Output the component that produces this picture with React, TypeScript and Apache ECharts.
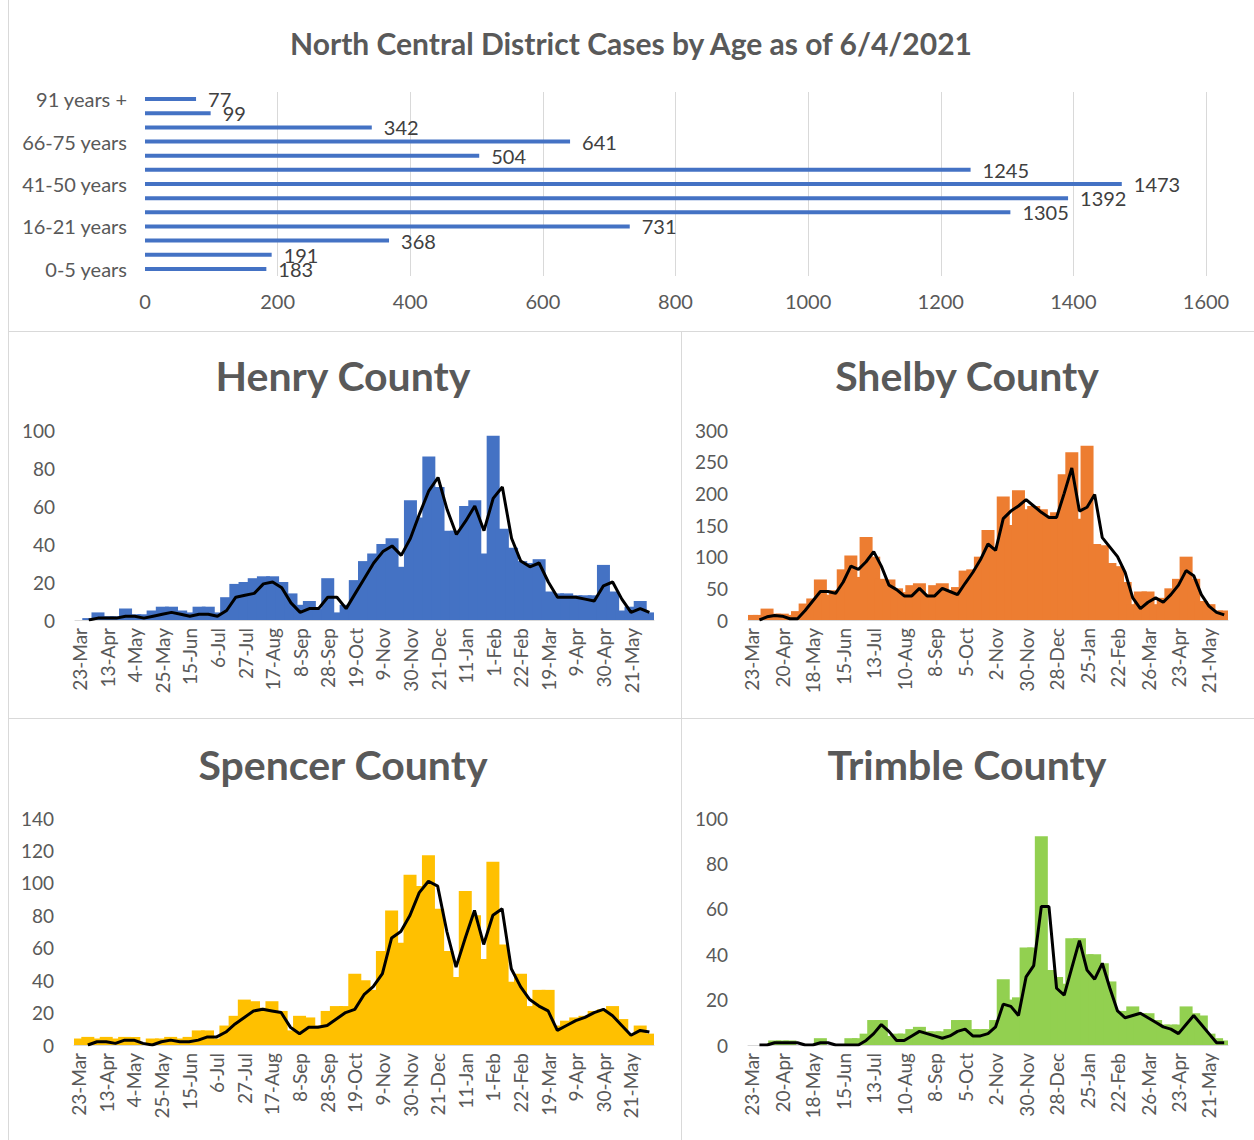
import React, { useEffect, useRef } from "react";
import * as echarts from "echarts";

const FONT = 'Lato, "Open Sans", sans-serif';

// Top chart
const ageGroups = [
  "0-5 years", "6-10 years", "11-15 years", "16-21 years", "22-30 years", "31-40 years",
  "41-50 years", "51-60 years", "61-65 years", "66-75 years", "76-85 years", "86-90 years", "91 years +",
];
const ageCases = [183, 191, 368, 731, 1305, 1392, 1473, 1245, 504, 641, 342, 99, 77];

// Weekly categories
const weekDates = [
  "23-Mar", "30-Mar", "6-Apr", "13-Apr", "20-Apr", "27-Apr", "4-May", "11-May", "18-May", "25-May",
  "1-Jun", "8-Jun", "15-Jun", "22-Jun", "29-Jun", "6-Jul", "13-Jul", "20-Jul", "27-Jul", "3-Aug",
  "10-Aug", "17-Aug", "24-Aug", "31-Aug", "8-Sep", "14-Sep", "21-Sep", "28-Sep", "5-Oct", "12-Oct",
  "19-Oct", "26-Oct", "2-Nov", "9-Nov", "16-Nov", "23-Nov", "30-Nov", "7-Dec", "14-Dec", "21-Dec",
  "28-Dec", "4-Jan", "11-Jan", "18-Jan", "25-Jan", "1-Feb", "8-Feb", "15-Feb", "22-Feb", "1-Mar",
  "12-Mar", "19-Mar", "26-Mar", "2-Apr", "9-Apr", "16-Apr", "23-Apr", "30-Apr", "7-May", "14-May",
  "21-May", "28-May", "4-Jun",
];

const henryCases = [
  0, 1, 4, 2, 2, 6, 3, 3, 5, 7, 7, 5, 4, 7, 7, 4, 12, 19, 20, 22,
  23, 23, 20, 14, 8, 10, 6, 22, 4, 8, 21, 31, 35, 40, 43, 28, 63, 54, 86, 70,
  47, 47, 60, 63, 35, 97, 48, 38, 31, 30, 32, 15, 14, 14, 13, 13, 13, 29, 15, 5,
  7, 10, 4,
];
const henryTrend = [
  null, 0, 1, 1, 1, 2, 2, 1, 2, 3, 4, 3, 2, 3, 3, 2, 5, 12, 13, 14,
  19, 20, 17, 9, 4, 6, 6, 12, 12, 6, 14, 22, 30, 36, 39, 34, 43, 56, 68, 75,
  58, 45, 52, 60, 47, 64, 70, 43, 31, 28, 30, 20, 12, 12, 12, 11, 10, 18, 20, 11,
  4, 6, 4,
];

const shelbyCases = [
  8, 8, 18, 10, 10, 8, 14, 26, 34, 64, 40, 47, 80, 102, 68, 131, 100, 65, 64, 50,
  44, 55, 58, 40, 55, 58, 45, 52, 78, 80, 100, 142, 115, 195, 150, 205, 175, 180, 175, 165,
  170, 230, 265, 160, 275, 120, 118, 90, 85, 60, 25, 45, 45, 25, 35, 50, 65, 100, 65, 30,
  25, 15, 15,
];
const shelbyTrend = [
  null, 0, 5, 7, 6, 2, 2, 15, 30, 45, 45, 42, 60, 85, 80, 92, 108, 85, 55, 48,
  38, 38, 50, 38, 38, 50, 45, 40, 58, 75, 95, 120, 110, 160, 172, 180, 190, 180, 170, 162,
  162, 200, 240, 172, 178, 198, 130, 115, 100, 75, 35, 18, 28, 35, 28, 40, 55, 78, 70, 40,
  22, 12, 8,
];

const spencerCases = [
  4, 5, 4, 5, 4, 5, 5, 1, 4, 4, 5, 4, 5, 9, 9, 4, 12, 18, 28, 27,
  23, 27, 21, 9, 18, 17, 12, 21, 24, 24, 44, 40, 34, 58, 83, 63, 105, 98, 117, 84,
  58, 42, 95, 80, 53, 113, 62, 39, 44, 24, 34, 34, 12, 15, 17, 18, 21, 22, 24, 16,
  7, 12, 7,
];
const spencerTrend = [
  null, 0, 2, 2, 1, 3, 3, 1, 0, 2, 3, 2, 2, 3, 5, 5, 8, 13, 17, 21,
  22, 21, 20, 11, 7, 11, 11, 12, 16, 20, 22, 31, 36, 44, 66, 70, 80, 94, 101, 98,
  70, 48, 66, 83, 62, 80, 84, 47, 36, 28, 24, 21, 9, 12, 15, 17, 20, 22, 18, 12,
  6, 9, 8,
];

const trimbleCases = [
  0, 0, 0, 2, 2, 2, 0, 0, 0, 3, 0, 0, 0, 3, 3, 5, 11, 11, 4, 5,
  5, 7, 8, 6, 6, 6, 7, 11, 11, 7, 7, 7, 11, 29, 20, 21, 43, 43, 92, 33,
  30, 27, 47, 47, 40, 40, 36, 28, 15, 15, 17, 14, 14, 11, 9, 9, 9, 17, 14, 13,
  5, 3, 2,
];
const trimbleTrend = [
  null, 0, 0, 1, 1, 1, 1, 0, 0, 1, 1, 0, 0, 0, 0, 2, 5, 9, 6, 2,
  2, 4, 6, 5, 4, 3, 4, 6, 7, 4, 4, 5, 8, 18, 17, 13, 30, 35, 61, 61,
  25, 22, 34, 46, 33, 29, 36, 25, 15, 12, 13, 14, 12, 10, 8, 7, 5, 9, 13, 9,
  5, 1, 1,
];

const counties = [
  { name: "Henry County", cases: henryCases, trend: henryTrend, color: "#4472C4", max: 100, interval: 20, labelEvery: 2,
    left: 75, top: 430, width: 579, height: 190, titleX: 343, titleY: 375 },
  { name: "Shelby County", cases: shelbyCases, trend: shelbyTrend, color: "#ED7D31", max: 300, interval: 50, labelEvery: 3,
    left: 748, top: 430, width: 480, height: 190, titleX: 967, titleY: 375 },
  { name: "Spencer County", cases: spencerCases, trend: spencerTrend, color: "#FFC000", max: 140, interval: 20, labelEvery: 2,
    left: 74, top: 818, width: 580, height: 227, titleX: 343, titleY: 764 },
  { name: "Trimble County", cases: trimbleCases, trend: trimbleTrend, color: "#92D050", max: 100, interval: 20, labelEvery: 3,
    left: 748, top: 818, width: 480, height: 227, titleX: 967, titleY: 764 },
];

const GRAY = "#595959";
const BORDER = "#d9d9d9";
const BAR_PX = 13;

export default function App() {
  const ref = useRef<HTMLDivElement>(null);
  useEffect(() => {
    if (!ref.current) return;
    const chart = echarts.init(ref.current, undefined, { renderer: "svg" });

    const grids: any[] = [{ left: 145, top: 92, width: 1061, height: 184 }];
    const xAxes: any[] = [
      {
        type: "value", gridIndex: 0, min: 0, max: 1600, interval: 200,
        axisLine: { show: false }, axisTick: { show: false },
        axisLabel: { fontFamily: FONT, fontSize: 20, color: GRAY, margin: 15, formatter: (v: number) => String(v) },
        splitLine: { show: true, showMinLine: false, lineStyle: { color: BORDER, width: 1 } },
      },
    ];
    const yAxes: any[] = [
      {
        type: "category", gridIndex: 0, data: ageGroups,
        axisLine: { show: false }, axisTick: { show: false },
        axisLabel: { interval: 2, fontFamily: FONT, fontSize: 20, color: GRAY, margin: 18 },
      },
    ];
    const series: any[] = [
      {
        type: "bar", xAxisIndex: 0, yAxisIndex: 0, data: ageCases, barWidth: 4,
        itemStyle: { color: "#4472C4" },
        label: { show: true, position: "right", distance: 12, fontFamily: FONT, fontSize: 20, color: "#404040" },
      },
    ];
    const graphics: any[] = [
      { type: "text", x: 631, y: 43, style: { text: "North Central District Cases by Age as of 6/4/2021", fill: GRAY, font: `bold 30px ${FONT}`, textAlign: "center", textVerticalAlign: "middle" } },
      { type: "line", shape: { x1: 8.5, y1: 0, x2: 8.5, y2: 1140 }, style: { stroke: BORDER, lineWidth: 1 } },
      { type: "line", shape: { x1: 8, y1: 331.5, x2: 1254, y2: 331.5 }, style: { stroke: BORDER, lineWidth: 1 } },
      { type: "line", shape: { x1: 681.5, y1: 331, x2: 681.5, y2: 1140 }, style: { stroke: BORDER, lineWidth: 1 } },
      { type: "line", shape: { x1: 8, y1: 718.5, x2: 1254, y2: 718.5 }, style: { stroke: BORDER, lineWidth: 1 } },
    ];

    counties.forEach((c, i) => {
      const gi = i + 1;
      grids.push({ left: c.left, top: c.top, width: c.width, height: c.height });
      xAxes.push({
        type: "category", gridIndex: gi, data: weekDates, boundaryGap: true,
        axisLine: { show: true, lineStyle: { color: BORDER, width: 1 } },
        axisTick: { show: false },
        axisLabel: { interval: c.labelEvery, rotate: 90, fontFamily: FONT, fontSize: 19, color: GRAY, margin: 8 },
      });
      yAxes.push({
        type: "value", gridIndex: gi, min: 0, max: c.max, interval: c.interval,
        axisLine: { show: false }, axisTick: { show: false }, splitLine: { show: false },
        axisLabel: { fontFamily: FONT, fontSize: 19, color: GRAY, margin: 20 },
      });
      const fill = c.color;
      series.push({
        type: "custom", xAxisIndex: gi, yAxisIndex: gi, clip: true,
        data: c.cases.map((v, k) => [k, v]),
        encode: { x: 0, y: 1 },
        renderItem: (params: any, api: any) => {
          const top = api.coord([api.value(0), api.value(1)]);
          const base = api.coord([api.value(0), 0]);
          const w = BAR_PX;
          return {
            type: "rect",
            shape: { x: top[0] - w / 2, y: top[1], width: w, height: base[1] - top[1] },
            style: { fill },
          };
        },
      });
      series.push({
        type: "line", xAxisIndex: gi, yAxisIndex: gi, data: c.trend,
        symbol: "none", z: 5,
        lineStyle: { color: "#000000", width: 3 },
      });
      graphics.push({
        type: "text", x: c.titleX, y: c.titleY,
        style: { text: c.name, fill: GRAY, font: `bold 41px ${FONT}`, textAlign: "center", textVerticalAlign: "middle" },
      });
    });

    chart.setOption({
      animation: false,
      backgroundColor: "#ffffff",
      grid: grids,
      xAxis: xAxes,
      yAxis: yAxes,
      series,
      graphic: graphics,
    });
    return () => chart.dispose();
  }, []);

  return (
    <div
      ref={ref}
      style={{ position: "fixed", left: 0, top: 0, width: 1254, height: 1140, background: "#fff" }}
    />
  );
}
